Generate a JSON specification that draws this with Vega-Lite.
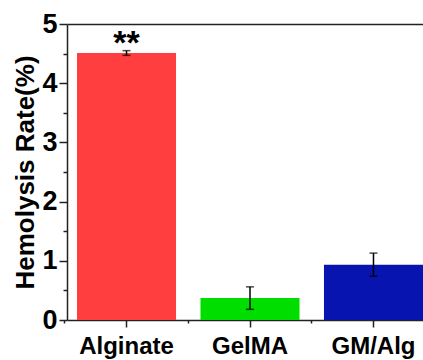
{
  "$schema": "https://vega.github.io/schema/vega-lite/v6.json",
  "width": 356,
  "height": 296,
  "autosize": {"type": "none"},
  "padding": {"left": 67, "top": 24, "right": 0, "bottom": 40},
  "background": "white",
  "config": {
    "view": {"stroke": null},
    "font": "Liberation Sans",
    "axis": {
      "labelFont": "Liberation Sans",
      "labelFontWeight": "bold",
      "labelColor": "black",
      "titleFont": "Liberation Sans",
      "titleFontWeight": "bold",
      "titleColor": "black",
      "domainColor": "#222222",
      "tickColor": "#222222",
      "domainWidth": 1.5,
      "tickWidth": 1.5,
      "grid": false
    }
  },
  "data": {
    "values": [
      {"group": "Alginate", "rate": 4.51, "lo": 4.47, "hi": 4.55, "sig": "**"},
      {"group": "GelMA", "rate": 0.37, "lo": 0.18, "hi": 0.56, "sig": ""},
      {"group": "GM/Alg", "rate": 0.935, "lo": 0.74, "hi": 1.13, "sig": ""}
    ]
  },
  "layer": [
    {
      "mark": {"type": "bar"},
      "encoding": {
        "x": {
          "field": "group", "type": "nominal", "sort": null,
          "scale": {"range": [0, 366], "paddingInner": 0.198, "paddingOuter": 0.081},
          "axis": {"title": null, "orient": "bottom", "labelAngle": 0, "labelFontSize": 24, "labelPadding": 7, "tickSize": 7}
        },
        "y": {
          "field": "rate", "type": "quantitative",
          "scale": {"domain": [0, 5], "nice": false},
          "axis": {"title": "Hemolysis Rate(%)", "orient": "left", "values": [0, 1, 2, 3, 4, 5], "labelFontSize": 27, "tickSize": 8, "labelPadding": 2, "titleFontSize": 26, "titlePadding": 3}
        },
        "color": {
          "field": "group", "type": "nominal",
          "scale": {"domain": ["Alginate", "GelMA", "GM/Alg"], "range": ["#FF3F3F", "#00DE00", "#0814B0"]},
          "legend": null
        }
      }
    },
    {
      "mark": {"type": "rule", "strokeWidth": 1.5, "color": "black"},
      "encoding": {
        "x": {
          "field": "group", "type": "nominal", "sort": null,
          "axis": {"title": null, "orient": "bottom", "labels": false, "domain": false, "tickSize": 3, "bandPosition": -0.124}
        },
        "y": {
          "field": "lo", "type": "quantitative",
          "axis": {"title": null, "orient": "left", "labels": false, "domain": false, "tickSize": 4, "values": [0.5, 1.5, 2.5, 3.5, 4.5]}
        },
        "y2": {"field": "hi"}
      }
    },
    {
      "mark": {"type": "tick", "size": 8, "thickness": 1.5, "color": "black"},
      "encoding": {
        "x": {"field": "group", "type": "nominal", "sort": null, "axis": null},
        "y": {"field": "lo", "type": "quantitative", "axis": null}
      }
    },
    {
      "mark": {"type": "tick", "size": 8, "thickness": 1.5, "color": "black"},
      "encoding": {
        "x": {"field": "group", "type": "nominal", "sort": null, "axis": null},
        "y": {"field": "hi", "type": "quantitative", "axis": null}
      }
    },
    {
      "mark": {"type": "text", "fontSize": 34, "fontWeight": "bold", "font": "Liberation Sans", "baseline": "alphabetic", "dy": 3, "color": "black"},
      "encoding": {
        "x": {
          "field": "group", "type": "nominal", "sort": null,
          "axis": {"title": null, "orient": "top", "labels": false, "ticks": false, "domain": true}
        },
        "y": {"field": "hi", "type": "quantitative", "axis": null},
        "text": {"field": "sig"}
      }
    }
  ],
  "resolve": {"axis": {"x": "independent", "y": "independent"}}
}
